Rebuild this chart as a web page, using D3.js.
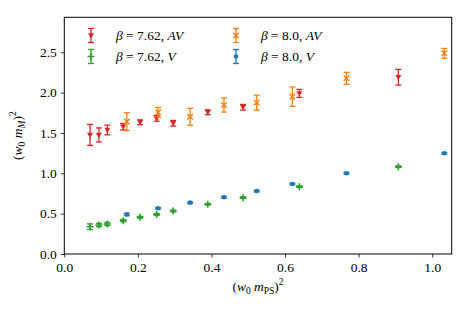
<!DOCTYPE html>
<html>
<head>
<meta charset="utf-8">
<script src="https://d3js.org/d3.v7.min.js"></script>
<style>
  body { margin: 0; background: #fff; }
  svg text { fill: #000; }
</style>
</head>
<body>
<svg id="chart" width="470" height="313"></svg>
<script>
// beta = 7.62
const x762 = [0.070, 0.094, 0.117, 0.160, 0.206, 0.251, 0.296, 0.390, 0.486, 0.639, 0.908];
const av762 = [1.475, 1.475, 1.537, 1.577, 1.632, 1.680, 1.620, 1.756, 1.818, 1.990, 2.190];
const av762Err = [0.13, 0.087, 0.06, 0.04, 0.03, 0.035, 0.035, 0.03, 0.035, 0.05, 0.097];
const v762 = [0.338, 0.359, 0.372, 0.413, 0.455, 0.490, 0.533, 0.616, 0.698, 0.834, 1.082];
const v762Err = [0.035, 0.02, 0.02, 0.015, 0.012, 0.012, 0.012, 0.01, 0.01, 0.01, 0.01];
// beta = 8.0
const x80 = [0.170, 0.255, 0.342, 0.434, 0.523, 0.620, 0.767, 1.033];
const av80 = [1.640, 1.756, 1.700, 1.846, 1.875, 1.950, 2.177, 2.487];
const av80Err = [0.11, 0.06, 0.105, 0.087, 0.093, 0.12, 0.074, 0.06];
const v80 = [0.490, 0.566, 0.636, 0.703, 0.780, 0.867, 1.000, 1.248];
const v80Err = [0.015, 0.01, 0.01, 0.01, 0.01, 0.01, 0.01, 0.01];

const xTicks = [0, 0.2, 0.4, 0.6, 0.8, 1.0];
const yTicks = [0, 0.5, 1.0, 1.5, 2.0, 2.5];

const series = [
  {beta: "7.62", kind: "AV", x: x762, y: av762, e: av762Err, color: "#d62728", marker: "tri"},
  {beta: "7.62", kind: "V",  x: x762, y: v762,  e: v762Err,  color: "#2ca02c", marker: "plus"},
  {beta: "8.0",  kind: "AV", x: x80,  y: av80,  e: av80Err,  color: "#ff7f0e", marker: "cross"},
  {beta: "8.0",  kind: "V",  x: x80,  y: v80,   e: v80Err,   color: "#1f77b4", marker: "dot"}
];

const FONT = "'Liberation Serif', serif";
const FS = 13.5, SUB = 9.5;
const svg = d3.select("#chart").attr("font-family", FONT);
const L = 64.3, R = 451.7, T = 17.3, B = 254;
const x = d3.scaleLinear().domain([0, 1.053]).range([L, R]);
const y = d3.scaleLinear().domain([0, 2.933]).range([B, T]);

// axes
const xAxis = svg.append("g").attr("transform", `translate(0,${B})`)
  .call(d3.axisBottom(x).tickValues(xTicks).tickFormat(d3.format(".1f")).tickSize(3.5).tickPadding(4));
const yAxis = svg.append("g").attr("transform", `translate(${L},0)`)
  .call(d3.axisLeft(y).tickValues(yTicks).tickFormat(d3.format(".1f")).tickSize(3.5).tickPadding(4));
[xAxis, yAxis].forEach(g => {
  g.attr("font-family", FONT).attr("font-size", FS);
  g.select(".domain").remove();
  g.selectAll(".tick line").attr("stroke", "#000").attr("stroke-width", 0.8);
});
xAxis.selectAll(".tick text").attr("dy", "0.8em");

svg.append("rect").attr("x", L).attr("y", T).attr("width", R - L).attr("height", B - T)
  .attr("fill", "none").attr("stroke", "#000").attr("stroke-width", 1);

function drawMarker(g, type, color) {
  if (type === "tri") {
    g.append("path").attr("d", "M-3,-2.2L3,-2.2L0,3z").attr("fill", color);
  } else if (type === "plus") {
    g.append("path").attr("d", "M-3.5,0H3.5M0,-3.5V3.5").attr("stroke", color).attr("stroke-width", 1.6);
  } else if (type === "cross") {
    g.append("path").attr("d", "M-2.8,-2.8L2.8,2.8M-2.8,2.8L2.8,-2.8").attr("stroke", color).attr("stroke-width", 1.4);
  } else {
    g.append("circle").attr("r", 2.3).attr("fill", color);
  }
}

function errorBar(g, px, py0, py1, color) {
  g.append("line").attr("x1", px).attr("x2", px).attr("y1", py0).attr("y2", py1)
    .attr("stroke", color).attr("stroke-width", 1.3);
  [py0, py1].forEach(p => g.append("line").attr("x1", px - 3).attr("x2", px + 3).attr("y1", p).attr("y2", p)
    .attr("stroke", color).attr("stroke-width", 1.3));
}

series.forEach(s => {
  const g = svg.append("g");
  s.x.forEach((xv, i) => {
    errorBar(g, x(xv), y(s.y[i] - s.e[i]), y(s.y[i] + s.e[i]), s.color);
    drawMarker(g.append("g").attr("transform", `translate(${x(xv)},${y(s.y[i])})`), s.marker, s.color);
  });
});

// legend
const legPos = [[91, 35.5], [91, 56.5], [236, 35.5], [236, 56.5]];
series.forEach((s, i) => {
  const [lx, ly] = legPos[i];
  const g = svg.append("g");
  errorBar(g, lx, ly - 7, ly + 7, s.color);
  drawMarker(g.append("g").attr("transform", `translate(${lx},${ly})`), s.marker, s.color);
  const t = g.append("text").attr("x", lx + 25).attr("y", ly + 4.5).attr("font-size", FS);
  t.append("tspan").attr("font-style", "italic").text("β");
  t.append("tspan").text(" = " + s.beta + ", ");
  t.append("tspan").attr("font-style", "italic").text(s.kind);
});

// axis labels with sub/superscripts
function mathLabel(t, subText, subItalic) {
  t.append("tspan").text("(");
  t.append("tspan").attr("font-style", "italic").text("w");
  t.append("tspan").attr("dy", 3).attr("font-size", SUB).text("0");
  t.append("tspan").attr("dy", -3).attr("font-style", "italic").text(" m");
  t.append("tspan").attr("dy", 3).attr("font-size", SUB).attr("font-style", subItalic ? "italic" : "normal").text(subText);
  t.append("tspan").attr("dy", -3).text(")");
  t.append("tspan").attr("dy", -6).attr("font-size", SUB).text("2");
}
mathLabel(svg.append("text").attr("x", (L + R) / 2).attr("y", 291).attr("text-anchor", "middle").attr("font-size", FS), "PS", false);
mathLabel(svg.append("text").attr("transform", `translate(22,${(T + B) / 2}) rotate(-90)`)
  .attr("text-anchor", "middle").attr("font-size", FS), "M", true);
</script>
</body>
</html>
